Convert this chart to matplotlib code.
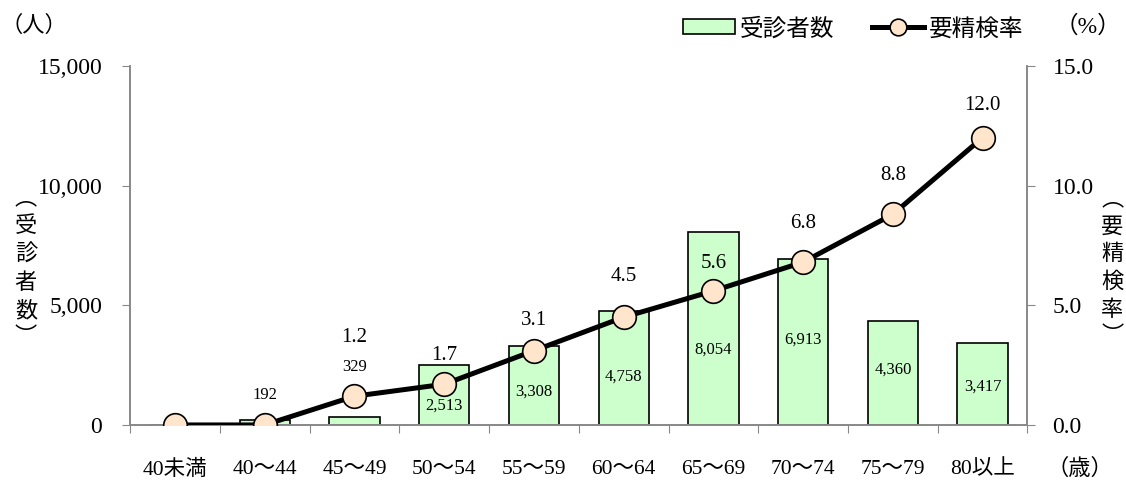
import numpy as np
import matplotlib.pyplot as plt
from matplotlib.lines import Line2D
from matplotlib.patches import Patch

plt.rcParams['font.family'] = ['Liberation Serif', 'Noto Sans CJK JP', 'DejaVu Sans']

# data
ages = ["40未満", "40～44", "45～49", "50～54", "55～59",
        "60～64", "65～69", "70～74", "75～79", "80以上"]
counts = [0, 192, 329, 2513, 3308, 4758, 8054, 6913, 4360, 3417]
rates = [0.0, 0.0, 1.2, 1.7, 3.1, 4.5, 5.6, 6.8, 8.8, 12.0]
# label placement (bar labels in people, rate labels offset in points)
count_lab_y = [None, 1250, 2420, 790, 1380, 2000, 3130, 3550, 2300, 1590]
rate_lab_off = [None, None, 42, 21, 22, 29, 20, 28, 28, 23]

x = np.arange(len(ages))
grey = '#888888'

fig = plt.figure(figsize=(11.26, 4.84), dpi=100)
ax = fig.add_axes([0.1155, 0.122, 0.797, 0.742])
ax2 = ax.twinx()

ax.bar(x, counts, width=0.56, color='#CCFFCC', edgecolor='black', linewidth=1.2, zorder=2)
for i, c in enumerate(counts):
    if count_lab_y[i] is not None:
        ax.text(x[i], count_lab_y[i], f"{c:,}", ha='center', va='center', fontsize=12)

ax2.plot(x, rates, color='black', lw=3.6, marker='o', ms=17,
         mfc='#FFE5CC', mec='black', mew=1.2, zorder=3)
for i, r in enumerate(rates):
    if rate_lab_off[i] is not None:
        ax2.annotate(f"{r:.1f}", (x[i], r), xytext=(0, rate_lab_off[i]),
                     textcoords='offset points', ha='center', va='center', fontsize=15)

ax.set_xlim(-0.5, len(ages) - 0.5)
ax.set_ylim(0, 15000)
ax2.set_ylim(0, 15)
ax.set_yticks([0, 5000, 10000, 15000])
ax.set_yticklabels([f"{v:,}" for v in [0, 5000, 10000, 15000]])
ax2.set_yticks([0, 5, 10, 15])
ax2.set_yticklabels([f"{v:.1f}" for v in [0, 5, 10, 15]])

ax.set_xticks(np.arange(-0.5, len(ages), 1.0))
ax.set_xticklabels([])
ax.set_xticks(x, minor=True)
ax.set_xticklabels(ages, minor=True)
ax.tick_params(axis='x', which='major', length=6, color=grey, direction='out')
ax.tick_params(axis='x', which='minor', length=0, pad=25, labelsize=15.5)
ax.tick_params(axis='y', length=6, color=grey, labelsize=17, pad=14)
ax2.tick_params(axis='y', length=6, color=grey, labelsize=17, pad=12)

for a in (ax, ax2):
    a.spines['top'].set_visible(False)
    for s in ('left', 'right', 'bottom'):
        a.spines[s].set_color(grey)
        a.spines[s].set_linewidth(1.2)

# axis titles
fig.text(0.03, 0.945, "（人）", fontsize=16, ha='center', va='center')
fig.text(0.966, 0.945, "（%）", fontsize=17, ha='center', va='center')
fig.text(0.959, 0.03, "（歳）", fontsize=16, ha='center', va='center')
fig.text(0.023, 0.444, "\n".join("︵受診者数︶"), fontsize=16, ha='center', va='center',
         linespacing=1.48)
fig.text(0.988, 0.444, "\n".join("︵要精検率︶"), fontsize=16, ha='center', va='center',
         linespacing=1.48)

handles = [Patch(facecolor='#CCFFCC', edgecolor='black', linewidth=1.2),
           Line2D([], [], color='black', lw=3.6, marker='o', ms=12,
                  mfc='#FFE5CC', mec='black', mew=1.2)]
fig.legend(handles, ["受診者数", "要精検率"], loc='center', bbox_to_anchor=(0.758, 0.94),
           ncol=2, frameon=False, fontsize=17, handlelength=2.2, handletextpad=0.2,
           columnspacing=1.6, handleheight=0.6)

fig.savefig('out.png', dpi=100)
